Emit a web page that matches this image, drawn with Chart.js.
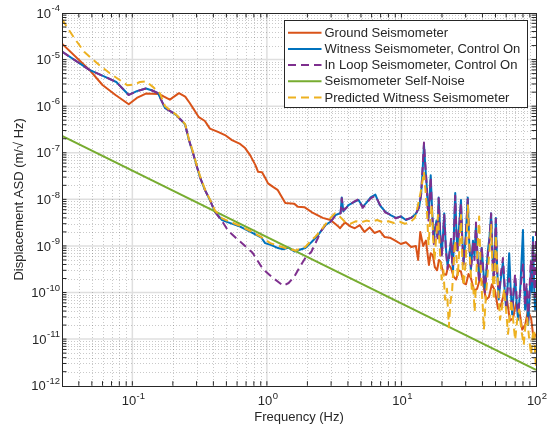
<!DOCTYPE html>
<html>
<head>
<meta charset="utf-8">
<script src="https://cdn.jsdelivr.net/npm/chart.js@4.4.1/dist/chart.umd.min.js"></script>
<style>
  html, body { margin: 0; padding: 0; background: #ffffff; }
  canvas { display: block; }
</style>
</head>
<body>
<canvas id="c" width="549" height="427" style="width:549px;height:427px"></canvas>
<script>
// ---------------- DATA ----------------
const seriesNames = [
  'Ground Seismometer',
  'Witness Seismometer, Control On',
  'In Loop Seismometer, Control On',
  'Seismometer Self-Noise',
  'Predicted Witness Seismometer'
];

const groundFreq = [0.03,0.048,0.06,0.075,0.094,0.108,0.126,0.155,0.169,0.19,0.222,0.247,0.267,0.312,0.346,0.377,0.433,0.488,0.55,0.632,0.689,0.75,0.82,0.86,0.92,0.97,1.02,1.11,1.2,1.37,1.6,1.7,1.9,2.2,2.6,2.97,3.4,3.5,3.8,4.2,4.5,4.9,5.3,5.8,6.3,6.9,7.5,8.2,9.0,9.9,10.8,11.8,12.8,13.3,13.8,14.5,15.2,16.0,16.5,17.1,17.7,18.4,19.0,19.6,20.5,21.5,22.4,23.4,24.4,25.5,26.6,27.7,29.0,30.2,31.5,32.9,34.6,36.5,38.4,40.4,42.5,44.7,47.0,49.5,52.2,55,58,61,64,67.6,71,75,79,83,87,92,96,100];
const groundAsd = [2.2e-5,6.0e-6,2.85e-6,1.74e-6,1.1e-6,1.5e-6,1.86e-6,1.83e-6,1.65e-6,1.38e-6,1.9e-6,1.6e-6,1.17e-6,5.8e-7,4.8e-7,3.3e-7,2.8e-7,2.4e-7,1.87e-7,1.55e-7,1.26e-7,8.9e-8,5.5e-8,3.9e-8,3.8e-8,2.9e-8,2.2e-8,1.85e-8,1.6e-8,8.3e-9,8.0e-9,6.9e-9,6.8e-9,5.1e-9,4.0e-9,3.6e-9,2.6e-9,2.4e-9,3.2e-9,2.6e-9,2.4e-9,2.8e-9,2.0e-9,2.5e-9,1.9e-9,2.1e-9,1.55e-9,1.5e-9,1.3e-9,1.1e-9,1.2e-9,9.5e-10,1.0e-9,5e-10,2.0e-9,1.0e-9,1.3e-9,3.9e-10,7e-10,6.3e-10,3.5e-10,3.0e-10,5e-10,4.5e-10,2.5e-10,2.4e-10,4e-10,3.3e-10,2.2e-10,1.9e-10,3e-10,2.8e-10,1.6e-10,1.5e-10,2.5e-10,2.0e-10,1.1e-10,1.2e-10,2e-10,1.6e-10,7e-11,8e-11,1.5e-10,1.1e-10,4.5e-11,5.4e-11,1e-10,6.8e-11,2.5e-11,2.8e-11,6e-11,4.3e-11,1.6e-11,2.0e-11,4e-11,2.8e-11,1e-11,1.3e-11];

const controlFreq = [0.03,0.048,0.061,0.076,0.094,0.108,0.126,0.139,0.155,0.175,0.19,0.211,0.234,0.247,0.263,0.282,0.302,0.318,0.346,0.377,0.411,0.464,0.516,0.632,0.78,0.91,0.97,1.08,1.21,1.32,1.45,1.6,1.8,1.93,2.14,2.4,2.5,2.72,2.97,3.23,3.53,3.6,3.7,4.04,4.4,4.8,5.15,5.5,5.9,6.4,6.9,7.6,8.3,9.1,9.9,10.8,11.8,12.8,13.5,14.0,14.35,14.7,15.05,15.4,15.65,15.9,16.2,16.5,16.9,17.4,17.8,18.2,18.55,18.9,19.4,19.9,20.3,20.8,21.4,22.0,22.7,23.4,23.8,24.2,24.6,25.1,25.5,26.0,26.8,27.7,28.3,29.0,30.0,31.1,31.9,32.8,33.4,34.0,34.9,35.8,36.8,37.8,38.6,39.5,40.6,41.7,42.8,43.9,45.1,46.4,47.5,48.6,49.4,50.3,51.5,52.8,54.8,56.8,58.4,60.0,61.6,63.2,64.8,66.5,68.2,70.0,71.8,73.6,76.7,80.0,81.5,83.0,85.2,87.5,89.5,91.5,93.2,95.0,96.7,98.5,100];
const witnessAsd = [1.48e-5,6.0e-6,4.4e-6,3.3e-6,1.74e-6,2.1e-6,2.4e-6,2.2e-6,1.9e-6,9.1e-7,7.9e-7,6.5e-7,4.8e-7,4.0e-7,1.9e-7,1.0e-7,5.0e-8,3.0e-8,1.6e-8,9.7e-9,5.4e-9,3.6e-9,3.2e-9,2.6e-9,1.9e-9,1.5e-9,1.15e-9,1.04e-9,9e-10,8.5e-10,9.2e-10,7.6e-10,8.5e-10,9.0e-10,1.2e-9,1.7e-9,2.0e-9,2.8e-9,3.3e-9,4.6e-9,5.1e-9,1.1e-8,5.5e-9,7.5e-9,8.6e-9,9.7e-9,6.9e-9,8.5e-9,1.1e-8,1.26e-8,7.5e-9,5.4e-9,4.6e-9,4.0e-9,4.3e-9,3.6e-9,4.0e-9,4.9e-9,6.6e-9,1.26e-8,4.0e-8,1.5e-7,5.0e-8,2.0e-8,8e-9,4.0e-9,1.2e-8,3.3e-8,6e-9,1.3e-9,2.5e-9,3.5e-9,1.5e-9,1.1e-8,2.0e-9,6.4e-10,1.5e-9,5.0e-9,9e-10,3.8e-10,7e-10,1.3e-9,5e-10,3.0e-10,2.5e-9,1.37e-8,3e-9,8e-10,2.5e-9,9.7e-9,1.5e-9,4.5e-10,1.5e-9,1.1e-8,1.2e-9,3e-10,6e-10,1.3e-9,6e-10,2.8e-9,6e-10,1.9e-10,4e-10,9e-10,3e-10,1.15e-10,3e-10,8e-10,1.5e-9,5.0e-9,6e-10,2e-10,8e-10,4e-9,3e-10,7.1e-11,2e-10,4.5e-10,1.2e-10,4.4e-11,1.5e-10,7.0e-10,1.2e-10,3.4e-11,9e-11,2e-10,6e-11,2.6e-11,1.5e-10,2.2e-9,2e-10,4.3e-11,1.2e-10,2.0e-11,8e-11,3e-10,1e-10,1.55e-9,1.5e-10,4.3e-11,7.1e-11];
const inLoopAsd = [1.48e-5,6.0e-6,4.4e-6,3.3e-6,1.74e-6,2.1e-6,2.4e-6,2.2e-6,1.9e-6,9.1e-7,7.9e-7,6.5e-7,4.8e-7,4.0e-7,1.9e-7,1.0e-7,5.0e-8,3.0e-8,1.6e-8,9.7e-9,5.4e-9,3.4e-9,2.1e-9,1.24e-9,7.2e-10,3.6e-10,2.9e-10,2.2e-10,1.7e-10,1.4e-10,1.6e-10,2.2e-10,4.0e-10,5.5e-10,7.5e-10,1.5e-9,2.0e-9,2.8e-9,3.3e-9,4.5e-9,5.0e-9,1.05e-8,5.8e-9,7.2e-9,8.8e-9,1.0e-8,6.6e-9,8.2e-9,1.05e-8,1.2e-8,7.8e-9,5.2e-9,4.7e-9,3.9e-9,4.3e-9,3.7e-9,4.0e-9,4.8e-9,6.8e-9,1.3e-8,4.5e-8,1.66e-7,5.5e-8,2.1e-8,7e-9,3.5e-9,1.1e-8,3.0e-8,5e-9,1.1e-9,2.2e-9,3.0e-9,1.3e-9,1.05e-8,1.8e-9,5.5e-10,1.3e-9,4.6e-9,8e-10,3.2e-10,6e-10,1.5e-9,4.5e-10,3.5e-10,2.2e-9,1.2e-8,2.6e-9,7e-10,2.2e-9,8.5e-9,1.3e-9,4.0e-10,1.3e-9,1.0e-8,1.0e-9,3.2e-10,5e-10,1.2e-9,5e-10,3.2e-9,5e-10,1.6e-10,3.5e-10,1.0e-9,2.5e-10,1.0e-10,2.6e-10,6.5e-10,1.3e-9,5.0e-9,5e-10,1.8e-10,7e-10,3.8e-9,2.5e-10,8e-11,2.5e-10,5.5e-10,1.5e-10,5e-11,1.2e-10,2.0e-10,1.0e-10,4e-11,1.2e-10,2.5e-10,8e-11,3.5e-11,1.2e-10,4.0e-10,1.5e-10,5e-11,1.5e-10,2.5e-11,1.2e-10,5e-10,1.5e-10,1.2e-9,2e-10,8e-11,2.0e-9];

const selfNoiseFreq = [0.03, 100];
const selfNoiseAsd = [2.3e-7, 2.2e-12];

const predictedFreq = [0.03,0.037,0.044,0.057,0.068,0.081,0.092,0.104,0.114,0.126,0.142,0.16,0.175,0.19,0.211,0.234,0.247,0.263,0.282,0.302,0.318,0.346,0.377,0.411,0.464,0.532,0.632,0.75,0.89,1.06,1.37,1.63,1.93,2.1,2.3,2.5,2.72,2.97,3.2,3.5,3.8,4.2,4.6,5.0,5.5,6.0,6.6,7.3,8.0,8.8,9.7,10.6,11.6,12.6,13.2,14.0,14.7,15.4,15.9,16.3,16.8,17.2,17.6,18.1,18.7,19.3,19.9,20.5,21.1,21.8,22.5,23.1,23.8,24.4,25.0,25.6,26.2,26.9,27.7,28.3,29.0,30.1,31.2,32.2,33.3,34.1,35.0,36.3,37.8,38.6,39.5,40.2,41.0,42.4,43.9,45.1,46.4,47.5,48.6,49.4,50.3,52.1,54.0,56.0,58.0,60.0,62.0,63.7,65.5,67.7,70.0,72.4,75.0,78.0,81.0,83.5,86.0,89.0,92.0,94.5,97.0,98.5,100];
const predictedAsd = [7.3e-5,2.9e-5,1.45e-5,7.6e-6,5.1e-6,3.6e-6,2.8e-6,2.95e-6,3.3e-6,3.4e-6,2.6e-6,1.9e-6,1.0e-6,8.3e-7,6.6e-7,4.9e-7,4.1e-7,2.0e-7,1.05e-7,5.2e-8,3.2e-8,1.65e-8,1.0e-8,5.8e-9,3.9e-9,3.3e-9,2.7e-9,2.1e-9,1.6e-9,1.15e-9,9.0e-10,8.0e-10,9.5e-10,1.25e-9,1.6e-9,2.1e-9,2.9e-9,4.0e-9,5.0e-9,4.2e-9,3.3e-9,3.0e-9,3.4e-9,3.2e-9,3.5e-9,3.3e-9,3.6e-9,3.2e-9,3.4e-9,3.1e-9,3.3e-9,3.0e-9,3.2e-9,4.0e-9,7.0e-9,1.6e-8,3.9e-8,7.5e-9,1.05e-9,3e-9,7.5e-9,1.5e-9,4.9e-10,1.5e-9,4.6e-9,8e-10,1.9e-10,3e-10,7e-11,1.2e-10,1.8e-11,6e-11,1.1e-10,4e-10,1.3e-9,6e-10,2.2e-10,8e-10,4.6e-9,6e-10,1.4e-10,5e-10,7.5e-9,6e-10,1.2e-10,1.5e-10,3.9e-11,4e-10,4.3e-9,5e-10,1.2e-10,5e-11,1.6e-11,8e-11,3e-10,8e-10,2.8e-9,3e-10,7e-11,3e-10,1.7e-9,1.5e-10,2.6e-11,5e-11,1.2e-10,4e-11,1.3e-11,3e-11,7e-11,2.5e-11,9.6e-12,2.5e-11,4.3e-11,1.5e-11,7.5e-12,2e-11,2.8e-11,1e-11,4.6e-12,1.2e-11,1.6e-11,5e-12,2.4e-12];

const xTickValues = [0.1, 1, 10, 100];
const xTickExponents = ['-1', '0', '1', '2'];
const yTickValues = [1e-12, 1e-11, 1e-10, 1e-9, 1e-8, 1e-7, 1e-6, 1e-5, 1e-4];
const yTickExponents = ['-12', '-11', '-10', '-9', '-8', '-7', '-6', '-5', '-4'];

// ---------------- STYLE ----------------
const FONT = '"Liberation Sans", Arial, Helvetica, sans-serif';
const INK = '#262626';
const colors = ['#D95319', '#0072BD', '#7E2F8E', '#77AC30', '#EDB120'];
const dashes = [[], [], [8, 5], [], [8, 5]];

function pts(fr, vals) { return fr.map((f, i) => ({ x: f, y: vals[i] })); }
const seriesData = [
  pts(groundFreq, groundAsd),
  pts(controlFreq, witnessAsd),
  pts(controlFreq, inLoopAsd),
  pts(selfNoiseFreq, selfNoiseAsd),
  pts(predictedFreq, predictedAsd)
];

const datasets = seriesData.map((d, i) => ({
  label: seriesNames[i],
  data: d,
  borderColor: colors[i],
  backgroundColor: colors[i],
  borderWidth: 2,
  borderDash: dashes[i],
  pointRadius: 0,
  tension: 0,
  fill: false,
  borderJoinStyle: 'round',
  order: 5 - i
}));

function minorValues(lo, hi) {
  const out = [];
  for (let e = Math.floor(Math.log10(lo)) - 1; e <= Math.ceil(Math.log10(hi)); e++) {
    for (let k = 1; k <= 9; k++) {
      const v = k * Math.pow(10, e);
      if (v > lo * 1.0001 && v < hi * 0.9999) out.push({ v, major: k === 1 });
    }
  }
  return out;
}

// draw "10" with a raised exponent; ax = anchor x, mode 'right' or 'center'
function powerLabel(ctx, ax, baseY, exp, mode) {
  ctx.font = '13px ' + FONT;
  const wb = ctx.measureText('10').width;
  ctx.font = '9.5px ' + FONT;
  const we = ctx.measureText(exp).width;
  const total = wb + we + 0.5;
  const x0 = mode === 'right' ? ax - total : ax - total / 2;
  ctx.textAlign = 'left';
  ctx.textBaseline = 'alphabetic';
  ctx.font = '13px ' + FONT;
  ctx.fillText('10', x0, baseY);
  ctx.font = '9.5px ' + FONT;
  ctx.fillText(exp, x0 + wb + 0.5, baseY - 6.5);
}

const frame = {
  id: 'frame',
  beforeDatasetsDraw(chart) {
    const { ctx, chartArea: a, scales } = chart;
    ctx.save();
    ctx.beginPath(); ctx.rect(a.left, a.top, a.right - a.left, a.bottom - a.top); ctx.clip();
    const xs = minorValues(0.03, 100), ys = minorValues(1e-12, 1e-4);
    ctx.setLineDash([1, 2]);
    ctx.lineWidth = 1;
    ctx.strokeStyle = 'rgba(38,38,38,0.25)';
    ctx.beginPath();
    xs.filter(t => !t.major).forEach(t => { const p = Math.round(scales.x.getPixelForValue(t.v)) + 0.5; ctx.moveTo(p, a.top); ctx.lineTo(p, a.bottom); });
    ys.filter(t => !t.major).forEach(t => { const p = Math.round(scales.y.getPixelForValue(t.v)) + 0.5; ctx.moveTo(a.left, p); ctx.lineTo(a.right, p); });
    ctx.stroke();
    ctx.setLineDash([]);
    ctx.strokeStyle = 'rgba(38,38,38,0.15)';
    ctx.lineWidth = 1.5;
    ctx.beginPath();
    xs.filter(t => t.major).forEach(t => { const p = scales.x.getPixelForValue(t.v); ctx.moveTo(p, a.top); ctx.lineTo(p, a.bottom); });
    ys.filter(t => t.major).forEach(t => { const p = scales.y.getPixelForValue(t.v); ctx.moveTo(a.left, p); ctx.lineTo(a.right, p); });
    ctx.stroke();
    ctx.restore();
  },
  afterDatasetsDraw(chart) {
    const { ctx, chartArea: a, scales } = chart;
    ctx.save();
    ctx.strokeStyle = INK;
    ctx.lineWidth = 1;
    ctx.setLineDash([]);
    const L = 4.5;
    ctx.beginPath();
    minorValues(0.03, 100).forEach(t => {
      const p = scales.x.getPixelForValue(t.v);
      ctx.moveTo(p, a.bottom); ctx.lineTo(p, a.bottom - L);
      ctx.moveTo(p, a.top); ctx.lineTo(p, a.top + L);
    });
    minorValues(1e-12, 1e-4).forEach(t => {
      const p = scales.y.getPixelForValue(t.v);
      ctx.moveTo(a.left, p); ctx.lineTo(a.left + L, p);
      ctx.moveTo(a.right, p); ctx.lineTo(a.right - L, p);
    });
    ctx.stroke();
    ctx.strokeRect(Math.round(a.left) + 0.5, Math.round(a.top) + 0.5, Math.round(a.right - a.left), Math.round(a.bottom - a.top));
    // tick labels
    ctx.fillStyle = INK;
    xTickValues.forEach((v, i) => {
      powerLabel(ctx, scales.x.getPixelForValue(v) + 1, a.bottom + 19.5, xTickExponents[i], 'center');
    });
    yTickValues.forEach((v, i) => {
      powerLabel(ctx, a.left - 2, scales.y.getPixelForValue(v) + 4.7, yTickExponents[i], 'right');
    });
    ctx.restore();
  },
  afterDraw(chart) {
    const { ctx, chartArea: a } = chart;
    const bx = Math.round(a.right - 252) + 0.5, by = Math.round(a.top + 7) + 0.5, bw = 243, bh = 87;
    ctx.save();
    ctx.fillStyle = '#ffffff';
    ctx.fillRect(bx, by, bw, bh);
    ctx.strokeStyle = INK; ctx.lineWidth = 1; ctx.setLineDash([]);
    ctx.strokeRect(bx, by, bw, bh);
    ctx.font = '13px ' + FONT;
    ctx.textBaseline = 'middle';
    ctx.textAlign = 'left';
    chart.data.datasets.forEach((ds, i) => {
      const yy = by + 12.2 + i * 16.2;
      ctx.strokeStyle = ds.borderColor;
      ctx.lineWidth = 2;
      ctx.setLineDash(ds.borderDash || []);
      ctx.beginPath(); ctx.moveTo(bx + 3.5, yy); ctx.lineTo(bx + 37, yy); ctx.stroke();
      ctx.setLineDash([]);
      ctx.fillStyle = INK;
      ctx.fillText(ds.label, bx + 40, yy + 0.5);
    });
    ctx.restore();
  }
};

new Chart(document.getElementById('c').getContext('2d'), {
  type: 'line',
  data: { datasets },
  plugins: [frame],
  options: {
    responsive: false,
    animation: false,
    devicePixelRatio: 1,
    layout: { padding: { left: 0, right: 13, top: 13, bottom: 0 } },
    plugins: { legend: { display: false }, tooltip: { enabled: false } },
    scales: {
      x: {
        type: 'logarithmic', min: 0.03, max: 100,
        grid: { display: false, drawTicks: false },
        border: { display: false },
        afterBuildTicks: s => { s.ticks = xTickValues.map(v => ({ value: v })); },
        afterFit: s => { s.height = 41.3; },
        ticks: { display: false },
        title: { display: true, text: 'Frequency (Hz)', color: INK, font: { family: FONT, size: 13 }, padding: { top: 0, bottom: 2 } }
      },
      y: {
        type: 'logarithmic', min: 1e-12, max: 1e-4,
        grid: { display: false, drawTicks: false },
        border: { display: false },
        afterBuildTicks: s => { s.ticks = yTickValues.map(v => ({ value: v })); },
        afterFit: s => { s.width = 62; },
        ticks: { display: false },
        title: { display: true, text: 'Displacement ASD (m/\u221A Hz)', color: INK, font: { family: FONT, size: 13 }, padding: { top: 12, bottom: 4 } }
      }
    }
  }
});
</script>
</body>
</html>
